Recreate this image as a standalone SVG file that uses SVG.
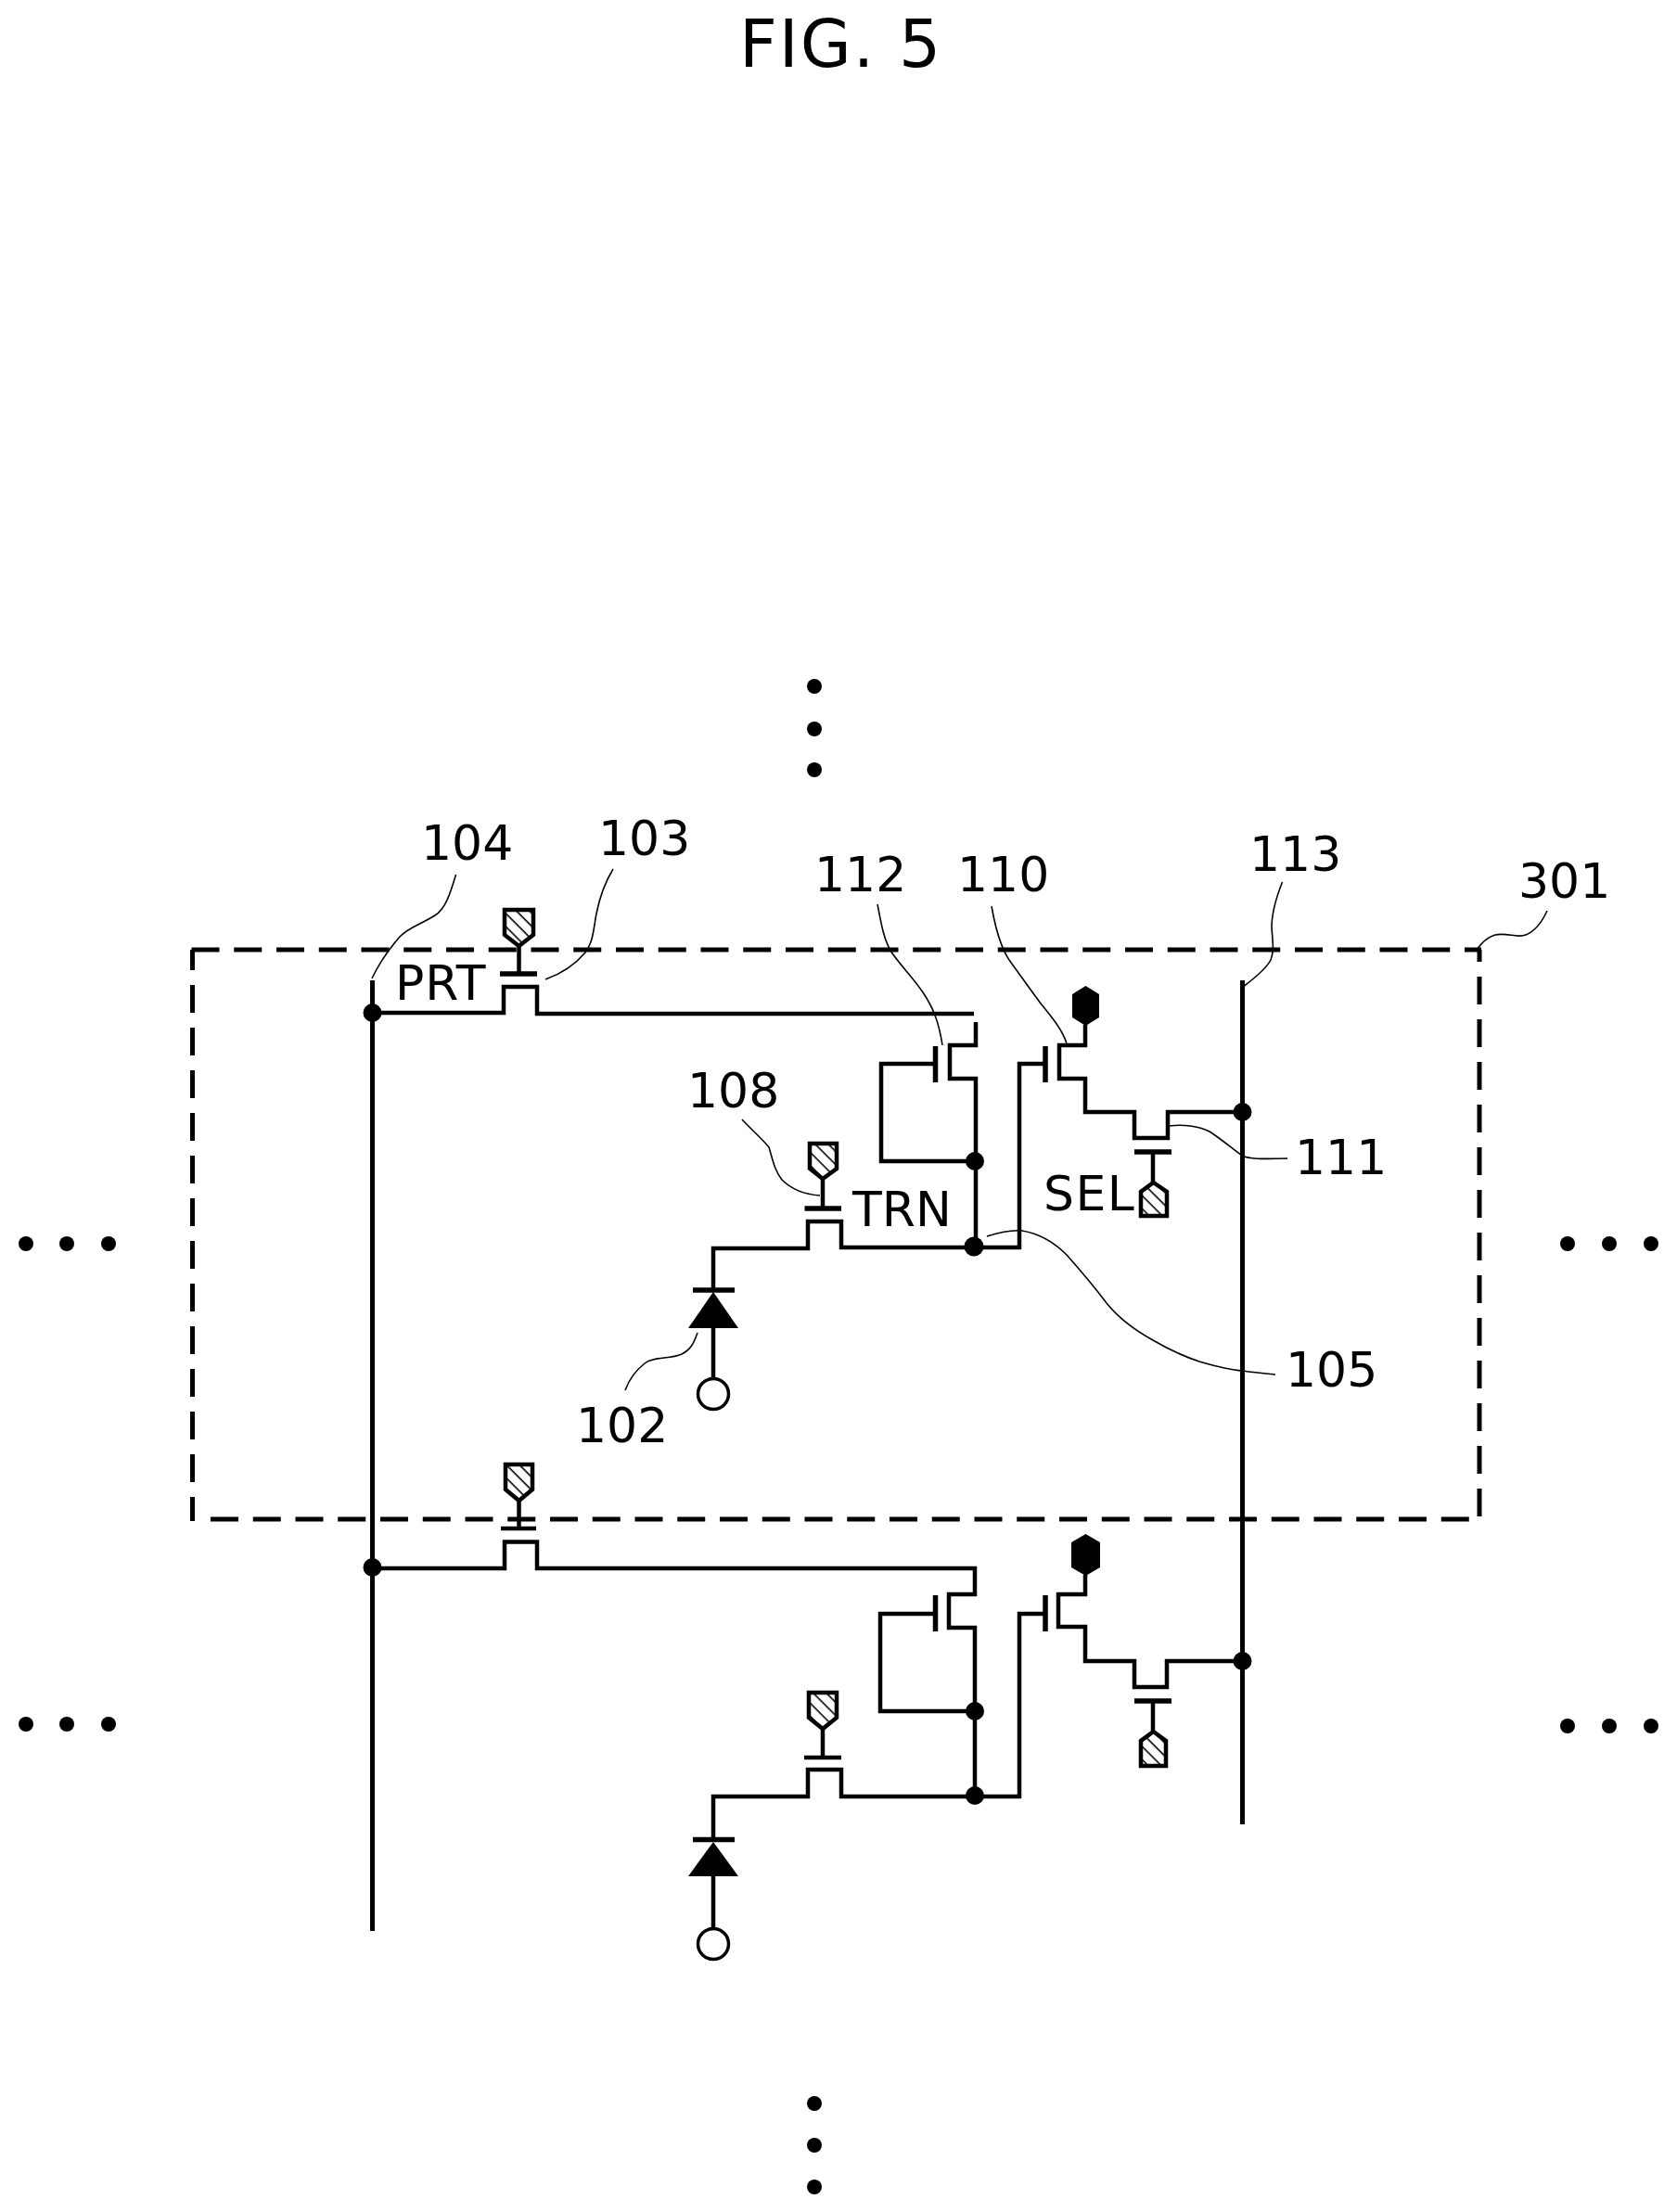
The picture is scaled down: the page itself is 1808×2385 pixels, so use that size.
<svg xmlns="http://www.w3.org/2000/svg" width="1808" height="2385" viewBox="0 0 1808 2385">
<style>
.w{fill:none;stroke:#000;stroke-width:4.5;stroke-linejoin:miter}
.b{fill:none;stroke:#000;stroke-width:5.5}
.r{fill:none;stroke:#000;stroke-width:5}
.d{fill:none;stroke:#000;stroke-width:5;stroke-dasharray:30 15.75}
.v{fill:none;stroke:#000;stroke-width:5;stroke-dasharray:30 16}
.l{fill:none;stroke:#000;stroke-width:1.6}
.s{fill:url(#h);stroke:#000;stroke-width:4.5}
.k{fill:#000}
.t{font-family:"DejaVu Sans",sans-serif;font-size:52px;fill:#000}
</style>
<defs>
<pattern id="h" width="10" height="10" patternUnits="userSpaceOnUse" patternTransform="rotate(45)">
<rect width="10" height="10" fill="#fff"/>
<rect x="0" y="0" width="10" height="1.6" fill="#000"/>
</pattern>
</defs>
<rect width="1808" height="2385" fill="#fff"/>

<text class="t" id="title" x="797" y="72" style="font-size:71px;letter-spacing:2px">FIG. 5</text>

<g id="boundary-301">
<path class="d" d="M206.5 1024H1597"/>
<path class="d" d="M227 1638H1595"/>
<path class="v" d="M207.5 1024V1640" stroke-dashoffset="8"/>
<path class="v" d="M1595 1024V1638" stroke-dashoffset="17"/>
</g>

<g id="connectors">
<path class="r" d="M401.5 1057V2082"/>
<path class="r" d="M1339.5 1057V1967"/>
<path class="w" d="M401 1092H543V1064H579V1093H1050"/>
<path class="w" d="M1052 1102V1127H1024V1163H1052V1344"/>
<path class="w" d="M1008 1147H950V1252H1052"/>
<path class="w" d="M769 1391V1346H871V1317H907V1345H1099V1147H1127"/>
<path class="w" d="M769 1431V1488"/>
<path class="w" d="M1170 1105V1127H1142V1163H1170V1199H1223V1227H1259V1199H1339"/>
<path class="w" d="M401 1691H544V1662.5H579V1691H1051V1719H1023V1755H1051V1936"/>
<path class="w" d="M1008 1740H949V1845H1051"/>
<path class="w" d="M769 1983V1937H871V1908H907V1937H1099V1740H1127"/>
<path class="w" d="M769 2022V2079"/>
<path class="w" d="M1170 1698V1719H1141V1754H1170V1791H1223V1819H1258V1791H1339"/>
<path class="l" d="M491.5 943C485 965 480 980 469 987C455 996 440 1000 431 1010C418 1025 408 1040 401 1055"/>
<path class="l" d="M661 937C650 955 646 970 643 985C640 1000 640 1015 631 1027C620 1040 605 1050 588 1056"/>
<path class="l" d="M946 975C950 995 952 1010 960 1025C970 1040 985 1055 995 1070C1005 1085 1012 1100 1016 1127"/>
<path class="l" d="M1069 977C1073 1000 1078 1020 1088 1035C1100 1052 1112 1068 1122 1082C1135 1098 1145 1110 1150 1125"/>
<path class="l" d="M1382.5 951C1375 970 1371 985 1371 1000C1372 1015 1374 1025 1370 1035C1365 1045 1352 1055 1341.5 1063"/>
<path class="l" d="M1668 982C1662 995 1655 1004 1645 1008C1635 1012 1625 1005 1612 1008C1602 1011 1596 1018 1591.5 1025"/>
<path class="l" d="M800 1207C810 1218 822 1228 829 1237C833 1250 835 1262 843 1272C853 1282 868 1288 884 1289"/>
<path class="l" d="M1261 1214C1275 1212 1292 1214 1304 1220C1315 1227 1328 1238 1339 1246C1350 1251 1370 1249 1388 1249"/>
<path class="l" d="M1064 1333C1080 1328 1092 1326 1102 1327C1120 1330 1135 1338 1150 1353C1165 1370 1178 1385 1193 1405C1205 1420 1225 1435 1243 1445C1260 1455 1278 1463 1293 1468C1310 1473 1325 1477 1340 1478C1352 1480 1364 1481 1375 1482"/>
<path class="l" d="M752 1437C748 1448 745 1455 735 1460C722 1466 705 1462 695 1470C685 1478 678 1488 674 1499"/>
</g>

<g id="junctions">
<circle class="k" cx="401.5" cy="1092" r="10"/>
<circle class="k" cx="1051" cy="1252" r="10"/>
<circle class="k" cx="1050" cy="1344" r="10.5"/>
<circle class="k" cx="1339.5" cy="1199" r="10"/>
<circle class="k" cx="401.5" cy="1690" r="10"/>
<circle class="k" cx="1051" cy="1845" r="10"/>
<circle class="k" cx="1051" cy="1936" r="10"/>
<circle class="k" cx="1339.5" cy="1791" r="10"/>
</g>

<g id="prt-1"><path class="b" d="M539 1050H579"/><path class="w" d="M559.5 1050V1018"/><path class="s" d="M544 981H575V1008L559.5 1020L544 1008Z"/></g>
<g id="trn-1"><path class="b" d="M867.5 1303H907"/><path class="w" d="M887 1303V1270"/><path class="s" d="M873 1233H902V1260L887 1271L873 1260Z"/></g>
<g id="m112-1"><path class="b" d="M1008.5 1128V1167"/></g>
<g id="m110-1"><path class="b" d="M1127 1128V1167"/><path class="k" d="M1170.5 1063L1185 1072V1097L1170.5 1106L1156 1097V1072Z"/></g>
<g id="sel-1"><path class="b" d="M1223 1242H1263"/><path class="w" d="M1243 1242V1276"/><path class="s" d="M1243.5 1275L1258 1285V1311H1230V1285Z"/></g>
<g id="diode-1"><path class="b" d="M747 1391H792"/><path class="k" d="M769 1393L796 1432H742Z"/><circle cx="769" cy="1503" r="16.5" fill="#fff" stroke="#000" stroke-width="3.5"/></g>

<g id="prt-2"><path class="w" d="M540 1648H578"/><path class="w" d="M559.5 1648V1617"/><path class="s" d="M545 1579H574V1606L559.5 1618L545 1606Z"/></g>
<g id="trn-2"><path class="w" d="M867 1895H907"/><path class="w" d="M887 1895V1862"/><path class="s" d="M872 1825H902V1852L887 1864L872 1852Z"/></g>
<g id="m112-2"><path class="b" d="M1008.5 1720V1759"/></g>
<g id="m110-2"><path class="b" d="M1127 1720V1759"/><path class="k" d="M1170.5 1654L1186 1663V1690L1170.5 1699L1155 1690V1663Z"/></g>
<g id="sel-2"><path class="b" d="M1223 1834H1263"/><path class="w" d="M1243 1834V1868"/><path class="s" d="M1243.5 1867L1257 1877V1904H1230V1877Z"/></g>
<g id="diode-2"><path class="b" d="M747 1983.5H792"/><path class="k" d="M769 1986L796 2023H742Z"/><circle cx="769" cy="2096" r="16.5" fill="#fff" stroke="#000" stroke-width="3.5"/></g>

<g id="ellipsis" class="k">
<circle cx="878" cy="740" r="8"/><circle cx="878" cy="786" r="8"/><circle cx="878" cy="830" r="8"/>
<circle cx="28" cy="1341" r="8"/><circle cx="72" cy="1341" r="8"/><circle cx="117" cy="1341" r="8"/>
<circle cx="1690" cy="1341" r="8"/><circle cx="1735" cy="1341" r="8"/><circle cx="1780" cy="1341" r="8"/>
<circle cx="28" cy="1859" r="8"/><circle cx="72" cy="1859" r="8"/><circle cx="117" cy="1859" r="8"/>
<circle cx="1690" cy="1861" r="8"/><circle cx="1735" cy="1861" r="8"/><circle cx="1780" cy="1861" r="8"/>
<circle cx="878" cy="2268" r="8"/><circle cx="878" cy="2313" r="8"/><circle cx="878" cy="2358" r="8"/>
</g>

<g id="labels">
<text class="t" x="454" y="927">104</text>
<text class="t" x="645" y="922">103</text>
<text class="t" x="878" y="961">112</text>
<text class="t" x="1032" y="961">110</text>
<text class="t" x="1347" y="939">113</text>
<text class="t" x="1637" y="968">301</text>
<text class="t" x="426" y="1078" style="letter-spacing:1px">PRT</text>
<text class="t" x="741" y="1194">108</text>
<text class="t" x="919" y="1322">TRN</text>
<text class="t" x="1396" y="1266">111</text>
<text class="t" x="1125" y="1305" style="letter-spacing:1.5px">SEL</text>
<text class="t" x="621" y="1555">102</text>
<text class="t" x="1386" y="1495">105</text>
</g>
</svg>
